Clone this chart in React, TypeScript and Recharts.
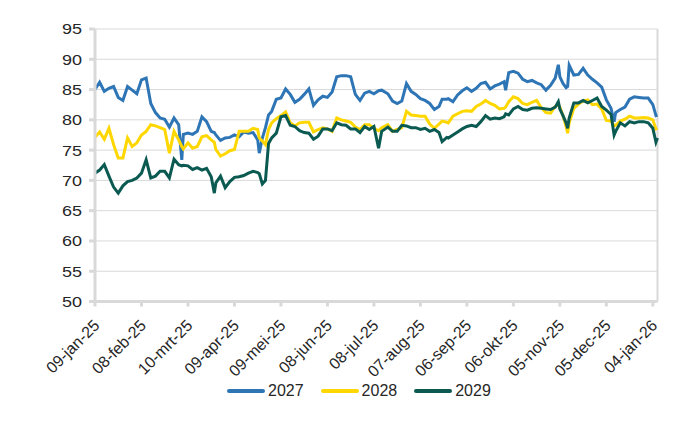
import { LineChart, Line, XAxis, YAxis, CartesianGrid, Legend, ReferenceLine } from 'recharts';

// days since 09-jan-2025
const days = [
  0, 3, 6, 9, 12, 15, 18, 21, 24, 27, 30, 33, 36, 39, 42, 45, 48, 51, 54, 56, 57, 60, 63, 66, 69, 72, 75, 77, 78, 81,
  84, 87, 90, 93, 96, 99, 102, 105, 106, 108, 110, 112, 114, 117, 120, 123, 126, 129, 132, 135, 138, 141, 144, 147,
  150, 153, 156, 159, 162, 165, 168, 171, 174, 177, 180, 183, 185, 189, 192, 195, 198, 201, 204, 207, 210, 213, 216,
  219, 222, 224, 227, 228, 231, 234, 237, 240, 243, 246, 249, 252, 255, 258, 261, 264, 265, 267, 270, 273, 276, 279,
  282, 285, 288, 291, 294, 297, 299, 300, 302, 304, 305, 306, 309, 312, 315, 318, 321, 324, 327, 330, 333, 335, 336,
  339, 342, 345, 348, 351, 354, 357, 360, 362, 363,
];

const y2027 = [
  85.0, 86.2, 84.7, 85.2, 85.5, 83.7, 83.2, 85.5, 84.9, 84.3, 86.6, 86.9, 82.7, 81.2, 80.3, 80.1, 78.8, 80.3, 79.2, 73.4, 77.6, 77.8, 77.6, 78.1, 80.5, 79.7, 78.1, 77.9, 77.5, 76.6,
  77.0, 77.1, 77.5, 77.2, 78.0, 77.8, 77.9, 76.7, 74.5, 77.0, 78.7, 80.8, 81.4, 83.4, 83.6, 85.1, 84.2, 82.9, 83.4, 84.2, 85.1, 82.4, 83.3, 83.9,
  83.7, 84.6, 87.1, 87.3, 87.3, 87.1, 84.2, 83.2, 84.4, 84.7, 84.3, 84.8, 84.9, 84.3, 83.1, 82.7, 83.1, 86.0, 84.7, 84.2, 83.5, 83.2, 82.7,
  81.7, 82.2, 83.4, 83.4, 83.5, 83.0, 84.1, 84.8, 85.3, 84.7, 85.2, 86.0, 86.2, 85.1, 85.6, 85.9, 86.3, 84.9, 87.8, 88.0, 87.7, 86.7, 86.3,
  86.5, 86.1, 85.8, 84.9, 85.7, 86.9, 89.1, 87.1, 86.0, 85.3, 85.5, 89.0, 87.4, 87.5, 88.5, 87.4, 86.7, 86.1, 85.4, 83.3, 81.9, 79.7, 81.2,
  81.7, 82.1, 83.4, 83.8, 83.7, 83.6, 83.6, 82.5, 80.7, 80.8,
];

const y2028 = [
  77.1, 78.0, 76.8, 78.6, 75.9, 73.7, 73.7, 77.0, 75.6, 76.2, 77.5, 78.1, 79.2, 79.0, 78.7, 78.4, 74.5, 78.1, 76.7, 75.6, 75.2, 76.2, 75.3, 75.6, 77.2, 77.4, 76.7, 76.3, 75.1, 74.0,
  74.4, 74.9, 75.1, 78.1, 78.1, 78.1, 78.6, 78.4, 77.0, 76.5, 75.9, 78.4, 79.5, 80.2, 80.7, 81.3, 79.5, 79.0, 79.5, 79.6, 79.6, 78.0, 78.4, 78.7,
  78.5, 78.1, 80.3, 80.0, 79.8, 79.6, 78.8, 78.4, 79.2, 79.2, 78.6, 78.2, 78.7, 79.2, 78.1, 78.4, 78.7, 81.4, 80.8, 80.7, 80.6, 80.6, 79.3,
  78.6, 79.3, 79.8, 79.6, 79.5, 80.6, 81.0, 81.4, 81.5, 81.4, 82.2, 82.6, 83.2, 82.7, 82.4, 81.8, 81.9, 82.1, 83.0, 83.8, 83.5, 82.7, 82.5,
  82.9, 83.2, 82.0, 81.2, 81.1, 82.2, 82.5, 82.1, 80.7, 78.9, 77.8, 79.5, 81.9, 82.6, 83.1, 83.3, 82.5, 82.6, 81.8, 79.9, 79.8, 79.0, 79.1,
  79.8, 80.1, 80.6, 80.3, 80.3, 80.4, 80.3, 80.0, 78.5, 78.6,
];

const y2029 = [
  71.2, 71.7, 72.6, 70.7, 68.9, 67.9, 69.1, 69.8, 70.0, 70.4, 71.2, 73.4, 70.4, 70.7, 71.5, 71.5, 70.4, 73.5, 72.6, 72.4, 72.5, 72.4, 71.8, 72.1, 71.7, 72.0, 70.6, 67.9, 69.6, 70.7,
  68.8, 69.8, 70.5, 70.6, 70.8, 71.2, 71.5, 71.3, 71.1, 69.4, 70.0, 76.1, 77.0, 77.8, 80.5, 80.7, 79.1, 78.9, 78.2, 77.9, 77.8, 76.8, 77.3, 78.5,
  78.5, 78.2, 79.5, 79.2, 79.1, 78.5, 78.5, 77.9, 78.9, 78.4, 78.9, 75.3, 78.1, 78.8, 78.1, 78.1, 79.1, 79.0, 78.7, 78.7, 78.4, 78.6, 78.1,
  78.4, 77.9, 76.4, 77.1, 77.0, 77.5, 78.0, 78.5, 78.9, 79.1, 78.9, 79.7, 80.7, 80.1, 80.3, 80.2, 80.5, 81.0, 80.8, 81.8, 82.2, 81.7, 81.6,
  81.9, 82.0, 81.9, 81.8, 81.7, 82.1, 83.0, 81.8, 80.7, 79.5, 78.6, 80.3, 82.8, 82.8, 83.2, 82.8, 83.2, 83.6, 82.2, 81.6, 80.9, 77.5, 78.1,
  79.5, 79.0, 79.7, 79.5, 79.7, 79.7, 79.5, 78.6, 76.3, 77.0,
];

const tickDays = [0, 30, 60, 90, 120, 150, 180, 210, 240, 270, 300, 330, 360];
const tickLabels = [
  '09-jan-25', '08-feb-25', '10-mrt-25', '09-apr-25', '09-mei-25', '08-jun-25', '08-jul-25',
  '07-aug-25', '06-sep-25', '06-okt-25', '05-nov-25', '05-dec-25', '04-jan-26',
];
const yTicks = [50, 55, 60, 65, 70, 75, 80, 85, 90, 95];

const data = days.map((day, i) => ({ day, '2027': y2027[i], '2028': y2028[i], '2029': y2029[i] }));

const FONT = '"Liberation Sans", Arial, sans-serif';
const AXIS = '#d9d9d9';
const TEXT = '#262626';

const XTick = ({ x, y, payload }: any) => {
  const label = tickLabels[tickDays.indexOf(payload.value)];
  const ax = x + 5.5;
  const ay = y + 18;
  return (
    <text x={ax} y={ay} transform={`rotate(-45 ${ax} ${ay})`} textAnchor="end" fontSize={16} fontFamily={FONT} fill={TEXT}>
      {label}
    </text>
  );
};

// y labels in the original are a bit wider than plain Arial
const YTick = ({ x, y, payload }: any) => (
  <text transform={`translate(${x} ${y}) scale(1.2 1)`} textAnchor="end" dy="0.36em" fontSize={15} fontFamily={FONT} fill={TEXT}>
    {payload.value}
  </text>
);

const renderLegend = ({ payload }: any) => (
  <div style={{ display: 'flex', alignItems: 'center', fontFamily: FONT, fontSize: 16, color: TEXT, height: 20 }}>
    {payload.map((p: any) => (
      <div key={p.value} style={{ display: 'flex', alignItems: 'center', marginRight: 17 }}>
        <span style={{ display: 'inline-block', width: 38, height: 4, borderRadius: 2, background: p.color, marginRight: 3 }} />
        {p.value}
      </div>
    ))}
  </div>
);

export default function App() {
  return (
    <div style={{ position: 'absolute', left: 0, top: 0, background: '#fff' }}>
      <LineChart width={700} height={430} data={data} margin={{ top: 29, right: 42.5, left: 0, bottom: 28.5 }}>
        <CartesianGrid vertical={false} stroke={AXIS} strokeWidth={1} />
        <XAxis
          dataKey="day"
          type="number"
          domain={[0, 363]}
          ticks={tickDays}
          interval={0}
          height={80}
          tick={<XTick />}
          tickSize={5}
          axisLine={{ stroke: AXIS, strokeWidth: 3 }}
          tickLine={{ stroke: AXIS, strokeWidth: 3 }}
        />
        <YAxis
          domain={[50, 95]}
          ticks={yTicks}
          interval={0}
          width={95}
          tickSize={6}
          tickMargin={7}
          tick={<YTick />}
          axisLine={{ stroke: AXIS, strokeWidth: 3 }}
          tickLine={{ stroke: AXIS, strokeWidth: 3 }}
        />
        <ReferenceLine x={363} stroke={AXIS} strokeWidth={2} />
        <Legend content={renderLegend} wrapperStyle={{ left: 227, top: 381, width: 300, height: 20 }} />
        <Line type="linear" dataKey="2027" stroke="#2e75b6" strokeWidth={3} dot={false} isAnimationActive={false} />
        <Line type="linear" dataKey="2028" stroke="#ffd700" strokeWidth={3} dot={false} isAnimationActive={false} />
        <Line type="linear" dataKey="2029" stroke="#0b5a52" strokeWidth={3} dot={false} isAnimationActive={false} />
      </LineChart>
    </div>
  );
}
